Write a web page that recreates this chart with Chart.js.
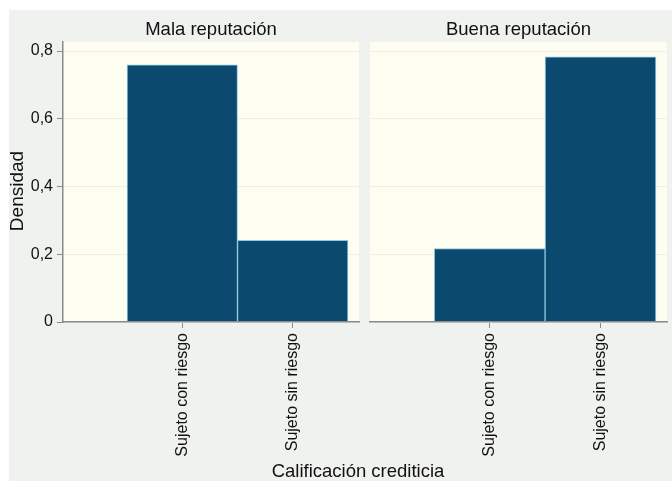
<!DOCTYPE html>
<html>
<head>
<meta charset="utf-8">
<script src="https://cdn.jsdelivr.net/npm/chart.js@4/dist/chart.umd.min.js"></script>
<style>
  html, body { margin: 0; padding: 0; background: #ffffff; }
  #fig { position: absolute; left: 9px; top: 10px; width: 663px; height: 471px; background: #eff2ee; overflow: hidden; }
  #c1 { position: absolute; left: 0; top: 0; }
  #c2 { position: absolute; left: 356px; top: 0; }
  #xtitle { position: absolute; left: 0; top: 451px; width: 698px; text-align: center;
            font: 18.5px "Liberation Sans", Arial, sans-serif; line-height: 20px; color: #111; }
</style>
</head>
<body>
<div id="fig">
  <canvas id="c1" width="356" height="471"></canvas>
  <canvas id="c2" width="307" height="471"></canvas>
  <div id="xtitle">Calificación crediticia</div>
</div>
<script>
// Credit rating categories and density per reputation group
const categories = ['Sujeto con riesgo', 'Sujeto sin riesgo'];
const categoryPositions = [0, 1];
const panelTitles = ['Mala reputación', 'Buena reputación'];
const malaDensity = [0.759, 0.241];
const buenaDensity = [0.217, 0.783];
const yTickValues = [0, 0.2, 0.4, 0.6, 0.8];
const yTickLabels = ['0', '0,2', '0,4', '0,6', '0,8'];
const yAxisTitle = 'Densidad';

const FONT = '"Liberation Sans", Arial, sans-serif';
const AXIS_GRAY = '#8a8a8a';

// Plot background plus panel heading (and y title on the first panel)
const panelDecor = {
  id: 'panelDecor',
  beforeDraw(chart) {
    const { ctx, chartArea: a } = chart;
    ctx.save();
    ctx.fillStyle = '#fdfdf2';
    ctx.fillRect(a.left, a.top, a.right - a.left, a.bottom - a.top);
    ctx.restore();
  },
  afterDraw(chart, args, opts) {
    const { ctx, chartArea: a } = chart;
    ctx.save();
    ctx.fillStyle = '#111';
    ctx.font = '18.5px ' + FONT;
    ctx.textAlign = 'center';
    ctx.textBaseline = 'middle';
    ctx.fillText(opts.title, (a.left + a.right) / 2, a.top - 12);
    if (opts.yTitle) {
      ctx.translate(9, (a.top + a.bottom) / 2 + 9);
      ctx.rotate(-Math.PI / 2);
      ctx.font = '19px ' + FONT;
      ctx.fillText(opts.yTitle, 0, 0);
    }
    ctx.restore();
  }
};

function makePanel(id, values, title, showY) {
  return new Chart(document.getElementById(id), {
    type: 'bar',
    data: {
      datasets: [{
        data: categoryPositions.map((x, i) => ({ x: x, y: values[i] })),
        backgroundColor: '#0b4a6e',
        borderColor: '#8ccbe0',
        borderWidth: 1,
        barPercentage: 1,
        categoryPercentage: 1
      }]
    },
    options: {
      responsive: false,
      animation: false,
      devicePixelRatio: 1,
      layout: { padding: { top: 32, left: showY ? 0 : 5, right: showY ? 6 : 5, bottom: 0 } },
      plugins: {
        legend: { display: false },
        tooltip: { enabled: false },
        title: { display: false },
        panelDecor: { title: title, yTitle: showY ? yAxisTitle : '' }
      },
      scales: {
        x: {
          type: 'linear',
          min: -1.08,
          max: 1.6,
          offset: false,
          afterBuildTicks: s => { s.ticks = categoryPositions.map(v => ({ value: v })); },
          afterFit: s => { s.height = 159; },
          ticks: {
            autoSkip: false,
            minRotation: 90,
            maxRotation: 90,
            padding: 5,
            color: '#111',
            font: { family: FONT, size: 16 },
            callback: (v, i) => categories[i]
          },
          grid: { offset: false, drawOnChartArea: false, drawTicks: true, tickLength: 6, tickColor: AXIS_GRAY, tickWidth: 1 },
          border: { display: true, color: AXIS_GRAY, width: 1.5, z: 1 }
        },
        y: {
          min: 0,
          max: 0.8266,
          afterBuildTicks: s => { s.ticks = yTickValues.map(v => ({ value: v })); },
          afterFit: s => { s.width = showY ? 54 : 0; },
          ticks: {
            display: showY,
            padding: 4,
            color: '#111',
            font: { family: FONT, size: 16 },
            callback: (v, i) => yTickLabels[i]
          },
          grid: { color: '#eeeee2', drawTicks: showY, tickLength: 6, tickColor: AXIS_GRAY, tickWidth: 1 },
          border: { display: showY, color: AXIS_GRAY, width: 1.5, z: 1 }
        }
      }
    },
    plugins: [panelDecor]
  });
}

makePanel('c1', malaDensity, panelTitles[0], true);
makePanel('c2', buenaDensity, panelTitles[1], false);
</script>
</body>
</html>
